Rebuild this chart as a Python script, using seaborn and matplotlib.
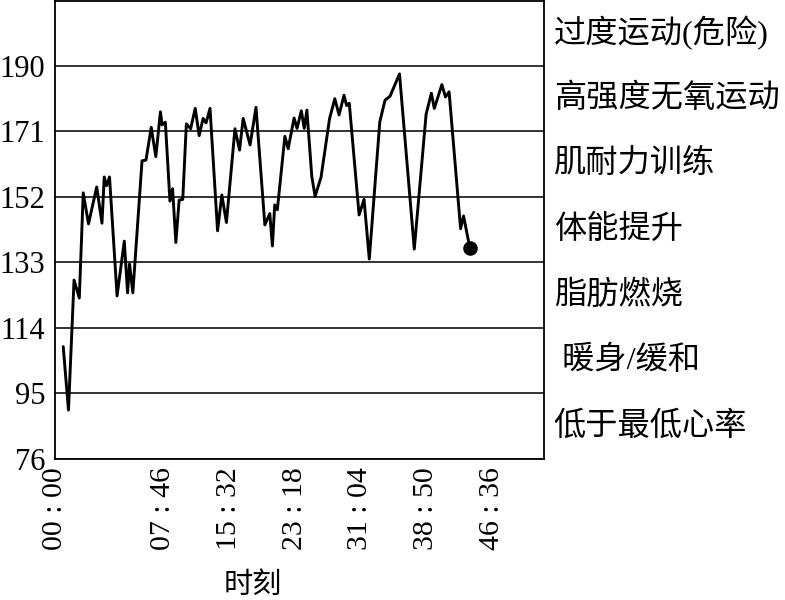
import matplotlib
matplotlib.use("Agg")
import matplotlib.pyplot as plt
import seaborn as sns
import pandas as pd

# ---- data ----
sample_idx = [2.5, 4.1, 5.8, 7.4, 8.6, 10.2, 12.7, 14.3, 15.0, 15.7, 16.6, 18.9,
              21.1, 22.1, 22.7, 23.7, 26.5, 27.7, 29.3, 30.7, 32.1, 32.6, 33.6,
              35.0, 35.8, 36.8, 37.8, 38.9, 40.0, 41.3, 42.7, 43.9, 45.1, 46.0,
              47.2, 49.5, 50.8, 52.2, 54.8, 56.2, 57.3, 59.4, 61.2, 63.9, 65.4,
              66.2, 66.9, 67.7, 70.0, 71.0, 72.8, 73.7, 75.0, 75.9, 76.7, 78.2,
              79.2, 81.0, 83.6, 85.2, 86.5, 88.0, 88.8, 89.6, 92.6, 94.1, 95.7,
              98.9, 100.5, 102.0, 104.9, 109.4, 113.0, 114.6, 115.5, 117.8,
              118.9, 120.0, 123.5, 124.4, 126.3]
heart_rate = [108.6, 90.2, 127.9, 122.7, 153.2, 144.2, 154.9, 144.4, 157.8, 155.3,
              157.8, 123.3, 139.2, 124.2, 132.6, 124.2, 162.5, 162.7, 172.2, 163.7,
              176.7, 172.9, 173.7, 150.8, 154.4, 138.8, 151.1, 151.3, 173.2, 171.8,
              177.7, 169.8, 174.8, 173.5, 177.7, 142.2, 152.6, 144.6, 171.8, 165.6,
              174.8, 167.1, 178.0, 143.9, 147.2, 137.8, 149.7, 148.3, 169.6, 166.0,
              174.9, 171.9, 177.0, 171.9, 177.2, 157.9, 152.2, 157.7, 174.7, 180.5,
              175.8, 181.5, 178.5, 179.2, 146.8, 151.3, 134.0, 173.8, 180.1, 181.2,
              187.7, 136.9, 176.0, 182.1, 177.7, 184.6, 181.0, 182.5, 142.8, 146.5,
              137.3]

y_ticks = [76, 95, 114, 133, 152, 171, 190]
x_tick_pos = [0, 33, 53, 73, 93, 113, 133]
x_tick_labels = ["00 : 00", "07 : 46", "15 : 32", "23 : 18", "31 : 04", "38 : 50", "46 : 36"]
zone_labels = ["低于最低心率", " 暖身/缓和", "脂肪燃烧", "体能提升",
               "肌耐力训练", "高强度无氧运动", "过度运动(危险)"]
zone_edges = [76, 95, 114, 133, 152, 171, 190, 208.85]
x_label = "时刻"

df = pd.DataFrame({"idx": sample_idx, "hr": heart_rate})

sns.set_theme(style="white")
plt.rcParams["font.family"] = ["Liberation Serif", "Noto Sans CJK SC"]
plt.rcParams["axes.unicode_minus"] = False

fig = plt.figure(figsize=(7.85, 6.0), dpi=100)
ax = fig.add_axes([55 / 785, 141 / 600, 489 / 785, 458 / 600])

sns.lineplot(data=df, x="idx", y="hr", ax=ax, color="black", linewidth=2.1,
             estimator=None, sort=False)
sns.scatterplot(data=df.iloc[[-1]], x="idx", y="hr", ax=ax, color="black",
                s=110, edgecolor="black", linewidth=0, zorder=5)

ax.set_xlim(0, 148.9)
ax.set_ylim(zone_edges[0], zone_edges[-1])
ax.set_yticks(y_ticks)
ax.set_yticklabels([str(v) for v in y_ticks])
ax.set_xticks(x_tick_pos)
ax.set_xticklabels(x_tick_labels, rotation=90)

ax.yaxis.grid(True, color="#111111", linewidth=1.2)
ax.xaxis.grid(False)
ax.set_axisbelow(True)

for sp in ax.spines.values():
    sp.set_color("black")
    sp.set_linewidth(1.3)

ax.tick_params(axis="x", direction="in", length=7, width=1.1, color="black",
               labelsize=21.5, pad=6, labelcolor="black")
ax.tick_params(axis="y", direction="in", length=0, labelsize=22, pad=7,
               labelcolor="black")

ax.set_ylabel("")
ax.set_xlabel(x_label, fontsize=21, color="black")
ax.xaxis.set_label_coords(0.405, -0.247)

trans = ax.get_yaxis_transform()
for i, lab in enumerate(zone_labels):
    yc = (zone_edges[i] + zone_edges[i + 1]) / 2
    ax.text(1.02, yc, lab, transform=trans, ha="left", va="center",
            fontsize=23.2, color="black", clip_on=False)

fig.savefig("out.png", dpi=100)
